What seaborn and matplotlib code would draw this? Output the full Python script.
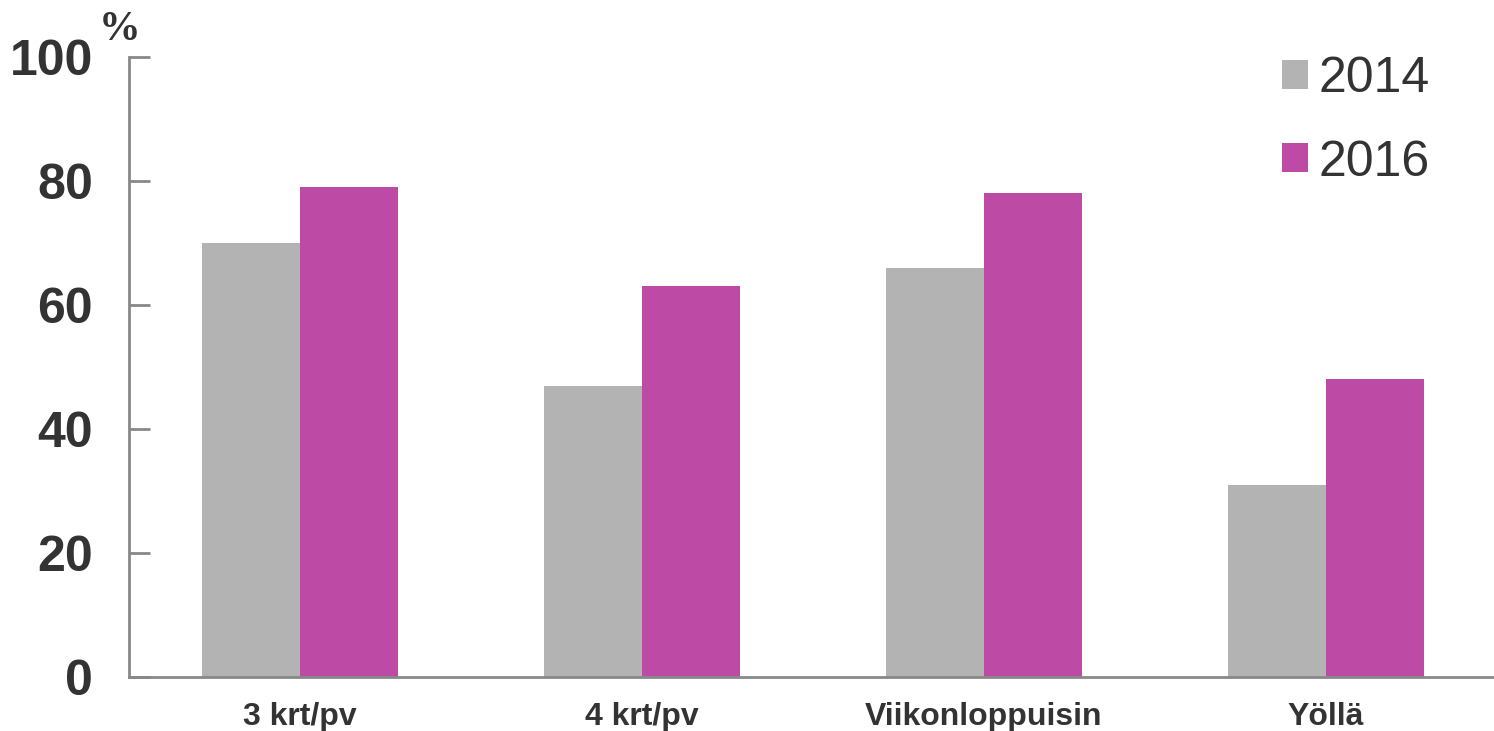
import matplotlib
matplotlib.use("Agg")
import matplotlib.pyplot as plt
import seaborn as sns
import pandas as pd

categories = ["3 krt/pv", "4 krt/pv", "Viikonloppuisin", "Yöllä"]
years = ["2014", "2016"]
values_2014 = [70, 47, 66, 31]
values_2016 = [79, 63, 78, 48]
y_ticks = [0, 20, 40, 60, 80, 100]

df = pd.DataFrame({
    "category": categories * 2,
    "year": [years[0]] * len(categories) + [years[1]] * len(categories),
    "value": values_2014 + values_2016,
})

sns.set_theme(style="white")
plt.rcParams["font.family"] = ["Liberation Sans", "DejaVu Sans"]

fig = plt.figure(figsize=(14.94, 7.31), dpi=100)
ax = fig.add_axes([0.0863, 0.074, 0.9157, 0.848])

palette = {"2014": "#b3b3b3", "2016": "#bd4ba6"}
sns.barplot(data=df, x="category", y="value", hue="year", palette=palette,
            width=0.574, gap=0, saturation=1, ax=ax, order=categories,
            hue_order=years, linewidth=0)

ax.set_xlim(-0.5, 3.5)
ax.set_ylim(0, 100)
ax.set_yticks(y_ticks)
ax.set_yticklabels([str(t) for t in y_ticks], fontsize=36, fontweight="bold",
                   color="#333333")
ax.set_xticks(range(len(categories)))
ax.set_xticklabels(categories, fontsize=23, fontweight="bold", color="#333333")
ax.set_xlabel("")
ax.set_ylabel("")

ax.tick_params(axis="y", left=True, direction="in", length=15, width=2,
               color="#888888", pad=26)
ax.tick_params(axis="x", bottom=False, length=0, pad=18)

for side in ["top", "right"]:
    ax.spines[side].set_visible(False)
for side in ["left", "bottom"]:
    ax.spines[side].set_color("#888888")
    ax.spines[side].set_linewidth(2)

leg = ax.legend(loc="upper right", bbox_to_anchor=(0.984, 1.074), frameon=False,
                fontsize=36, handlelength=0.52, handleheight=0.52,
                handletextpad=0.22, labelspacing=0.75)
for t in leg.get_texts():
    t.set_color("#333333")

fig.text(0.080, 0.933, "%", fontsize=30, fontweight="bold", color="#333333",
         family=["Liberation Serif", "DejaVu Serif"], ha="center", va="bottom")

fig.savefig("out.png", dpi=100)
